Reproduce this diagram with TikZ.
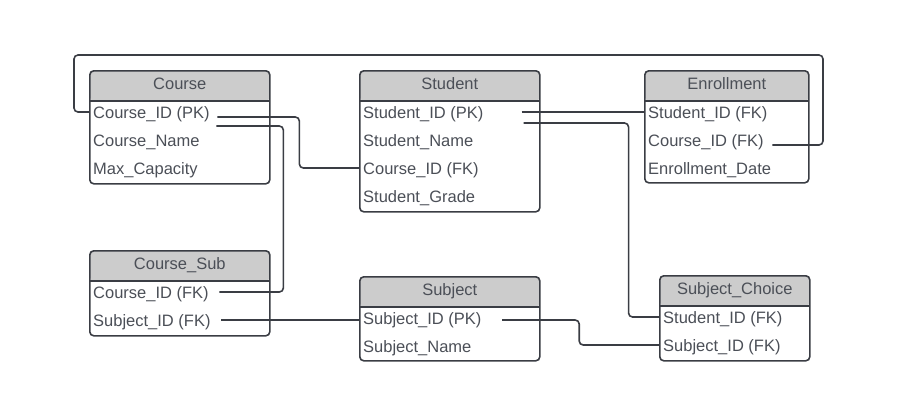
\documentclass[tikz,border=0pt]{standalone}
\usepackage{fontspec}
\setmainfont{Liberation Sans}
\usetikzlibrary{calc}
\definecolor{linec}{HTML}{3A3D44}
\definecolor{txtc}{HTML}{4B4F57}
\definecolor{headc}{HTML}{CCCCCC}

\begin{document}
\begin{tikzpicture}[x=1pt,y=-1pt,
	tbl/.style={draw=linec,line width=1.6,rounded corners=4,anchor=north west,inner sep=0,minimum width=#1,
		path picture={\fill[headc] (path picture bounding box.north west) rectangle ([yshift=-30]path picture bounding box.north east);
			\draw[linec,line width=1.6] ([yshift=-30]path picture bounding box.north west)--([yshift=-30]path picture bounding box.north east);}},
	headtxt/.style={anchor=base,inner sep=0,text=txtc,font=\fontsize{16.5}{20}\selectfont},
	field/.style={anchor=west,inner sep=0,text height=13,text depth=1,text=txtc,font=\fontsize{16.5}{20}\selectfont},
	link/.style={draw=linec,line width=1.6,rounded corners=4}]
	\useasboundingbox (0,0) rectangle (917,416);

	\node[tbl=180,minimum height=113] (crs) at (89,70) {};
	\node[headtxt] at ([yshift=-19]crs.north) {Course};
	\node[field] (crsid) at ([xshift=4,yshift=-42]crs.north west) {Course\_ID (PK)};
	\node[field] (crsname) at ([xshift=4,yshift=-70]crs.north west) {Course\_Name};
	\node[field] (crscap) at ([xshift=4,yshift=-98]crs.north west) {Max\_Capacity};

	\node[tbl=180,minimum height=141] (std) at (359,70) {};
	\node[headtxt] at ([yshift=-19]std.north) {Student};
	\node[field] (stdid) at ([xshift=4,yshift=-42]std.north west) {Student\_ID (PK)};
	\node[field] (stdname) at ([xshift=4,yshift=-70]std.north west) {Student\_Name};
	\node[field] (stdcid) at ([xshift=4,yshift=-98]std.north west) {Course\_ID (FK)};
	\node[field] (stdgrade) at ([xshift=4,yshift=-126]std.north west) {Student\_Grade};

	\node[tbl=164,minimum height=112] (enr) at (644,70) {};
	\node[headtxt] at ([yshift=-19]enr.north) {Enrollment};
	\node[field] (enrsid) at ([xshift=4,yshift=-42]enr.north west) {Student\_ID (FK)};
	\node[field] (enrcid) at ([xshift=4,yshift=-70]enr.north west) {Course\_ID (FK)};
	\node[field] (enrdate) at ([xshift=4,yshift=-98]enr.north west) {Enrollment\_Date};

	\node[tbl=180,minimum height=85] (csub) at (89,250) {};
	\node[headtxt] at ([yshift=-19]csub.north) {Course\_Sub};
	\node[field] (csubcid) at ([xshift=4,yshift=-42]csub.north west) {Course\_ID (FK)};
	\node[field] (csubsid) at ([xshift=4,yshift=-70]csub.north west) {Subject\_ID (FK)};

	\node[tbl=180,minimum height=84] (subj) at (359,276) {};
	\node[headtxt] at ([yshift=-19]subj.north) {Subject};
	\node[field] (subjsid) at ([xshift=4,yshift=-42]subj.north west) {Subject\_ID (PK)};
	\node[field] (subjname) at ([xshift=4,yshift=-70]subj.north west) {Subject\_Name};

	\node[tbl=150,minimum height=85] (sch) at (659,275) {};
	\node[headtxt] at ([yshift=-19]sch.north) {Subject\_Choice};
	\node[field] (schsid) at ([xshift=4,yshift=-42]sch.north west) {Student\_ID (FK)};
	\node[field] (schsubid) at ([xshift=4,yshift=-70]sch.north west) {Subject\_ID (FK)};

	\draw[link] (crs.west |- crsid) -| (74,55) -- (823,55) |- ([xshift=8.5,yshift=-5]enrcid.east);
	\draw[link] ([xshift=7.5,yshift=-5]crsid.east) -- ++(82,0) |- (std.west |- stdcid);
	\draw[link] ([xshift=6.5,yshift=-14]crsid.east) -- ++(67,0) |- ([xshift=10.5]csubcid.east);
	\draw[link] ([xshift=38]stdid.east) -- (enr.west |- enrsid);
	\draw[link] ([xshift=40,yshift=-11]stdid.east) -- ++(105,0) |- (sch.west |- schsid);
	\draw[link] ([xshift=10.5]csubsid.east) -- (subj.west |- csubsid);
	\draw[link] ([xshift=20.5,yshift=-2]subjsid.east) -- ++(77,0) |- (sch.west |- schsubid);
\end{tikzpicture}
\end{document}
